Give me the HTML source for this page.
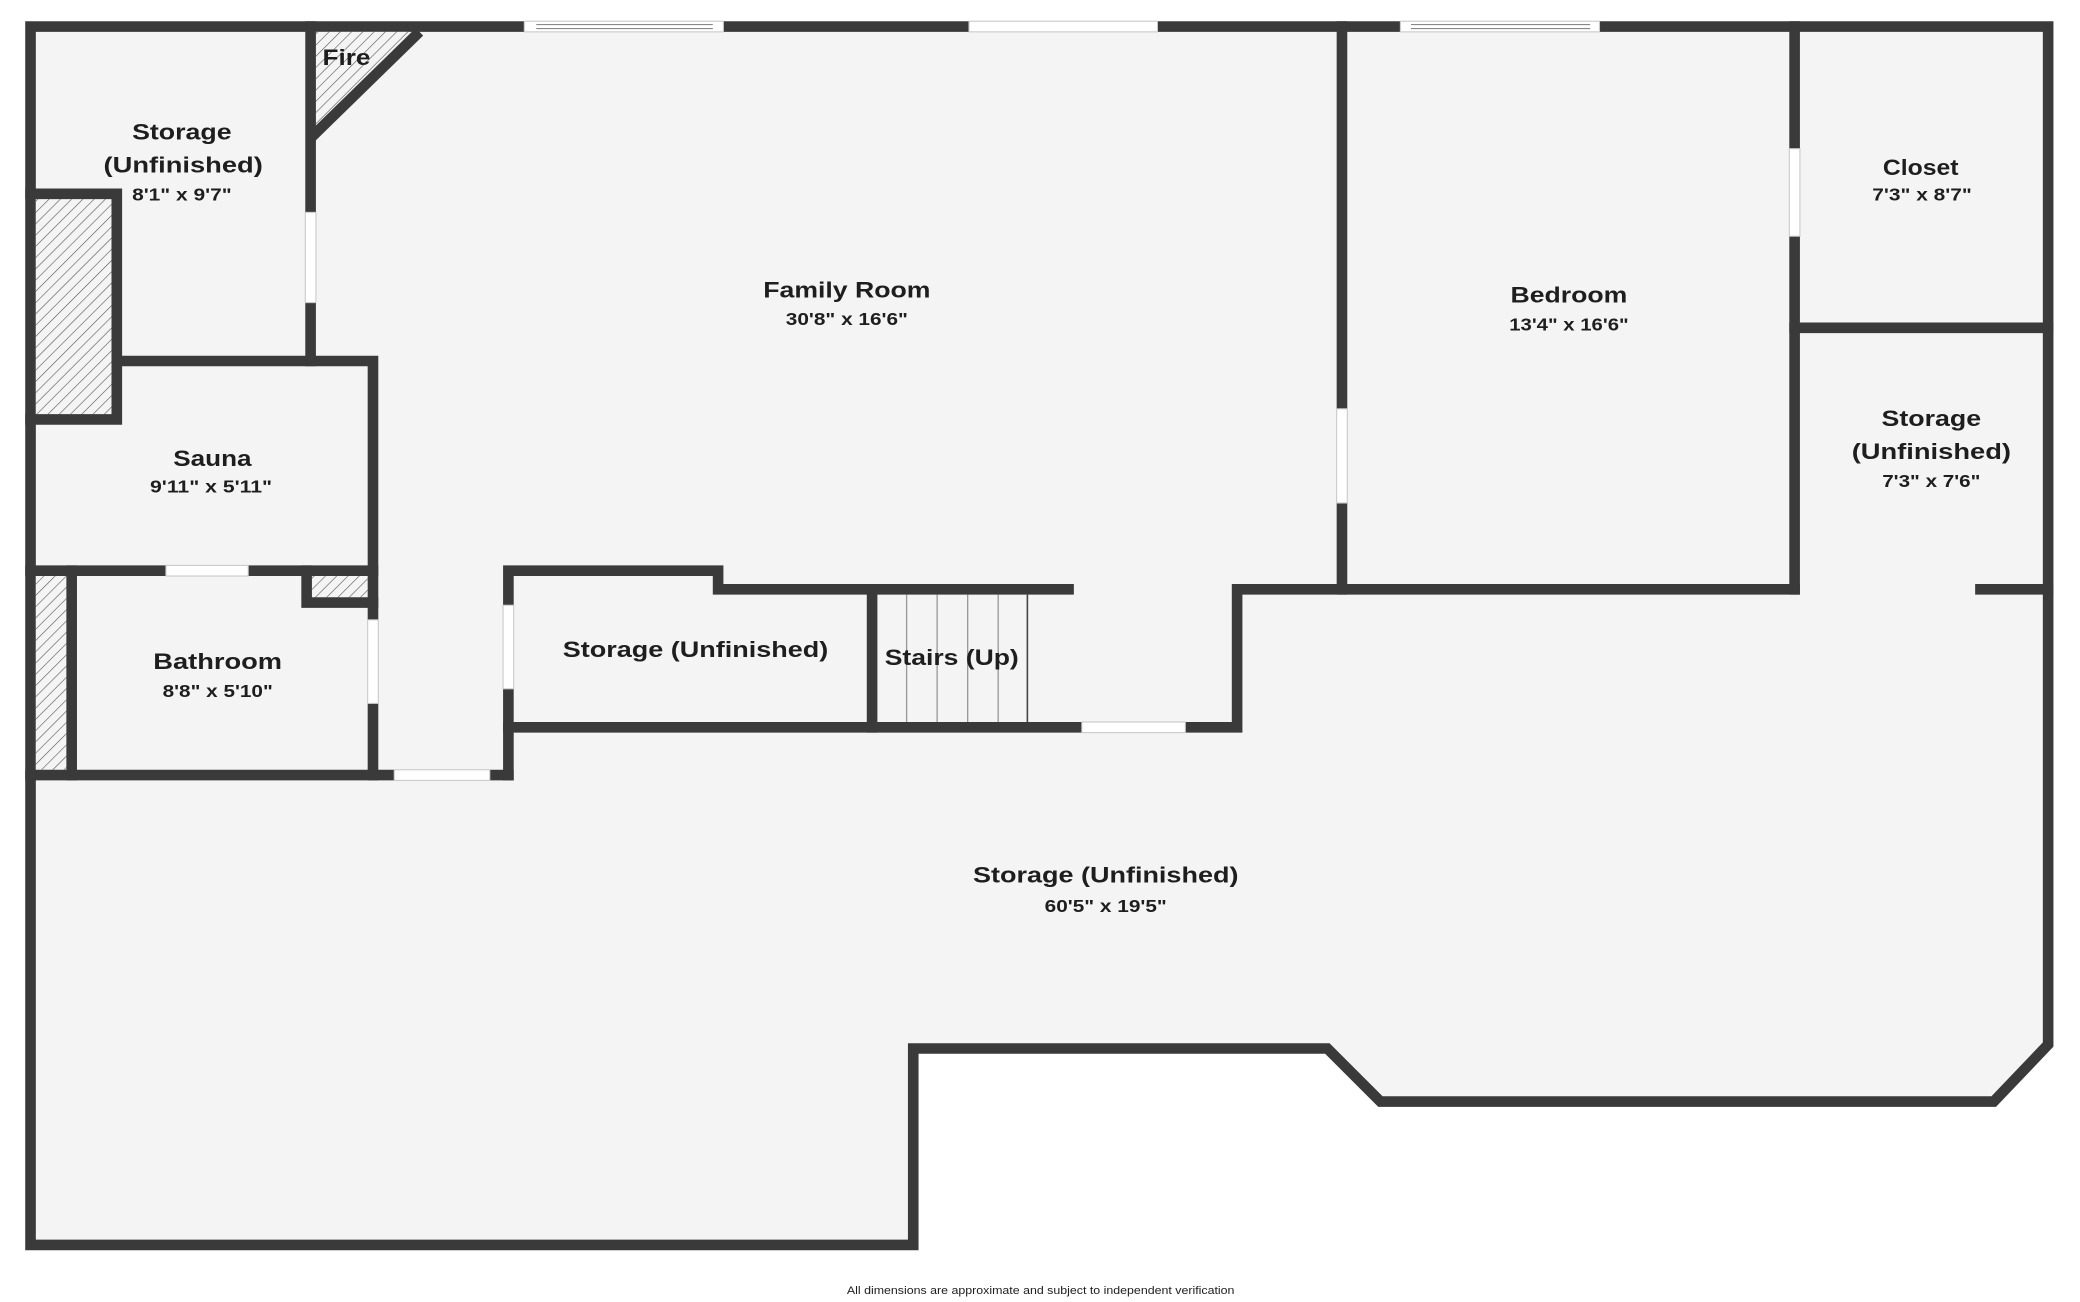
<!DOCTYPE html>
<html><head><meta charset="utf-8"><style>html,body{margin:0;padding:0;background:#fff;width:2080px;height:1302px;overflow:hidden}svg{display:block}text{font-family:"Liberation Sans",sans-serif;font-weight:bold;fill:#1e1e1e}</style></head><body>
<svg width="2080" height="1302" viewBox="0 0 1567 981" preserveAspectRatio="none" xmlns="http://www.w3.org/2000/svg">
<defs><pattern id="h" width="6" height="6" patternUnits="userSpaceOnUse" patternTransform="rotate(45)"><rect width="6" height="6" fill="#f4f4f4"/><line x1="0" y1="0" x2="0" y2="6" stroke="#555" stroke-width="0.9"/></pattern></defs>
<polygon points="23,20 1543,20 1543,787 1502,830 1040,830 1000,790 688,790 688,938 23,938" fill="#f4f4f4" stroke="#3a3a3a" stroke-width="8" stroke-linejoin="miter"/>
<polygon points="238,24 308,24 238,94" fill="url(#h)"/>
<rect x="27" y="150" width="57" height="162" fill="url(#h)"/>
<rect x="27" y="434" width="23" height="146" fill="url(#h)"/>
<rect x="235" y="434" width="42" height="16" fill="url(#h)"/>
<g stroke="#999" stroke-width="1"><line x1="683" y1="448" x2="683" y2="544"/><line x1="706" y1="448" x2="706" y2="544"/><line x1="729" y1="448" x2="729" y2="544"/><line x1="752" y1="448" x2="752" y2="544"/></g>
<line x1="774" y1="448" x2="774" y2="544" stroke="#444" stroke-width="1.2"/>
<g fill="none" stroke="#3a3a3a" stroke-width="8" stroke-linecap="square" stroke-linejoin="miter">
<path d="M234 20 V272"/><path d="M316 24 L234 104" stroke-linecap="butt"/>
<path d="M23 146 H88 V316 H23"/><path d="M88 272 H281 V584"/><path d="M23 430 H281"/>
<path d="M231 430 V454 H281"/><path d="M54 430 V584"/><path d="M23 584 H383"/>
<path d="M383 584 V430 H541 V444 H805"/><path d="M383 548 H932 V444 H1352"/>
<path d="M1011 20 V444"/><path d="M1352 20 V444"/><path d="M1352 247 H1543"/><path d="M1492 444 H1543"/>
<path d="M657 444 V548"/>
</g>
<g fill="#fff" stroke="#c8c8c8" stroke-width="0.8">
<rect x="395" y="16" width="150" height="8"/><rect x="730" y="16" width="142" height="8"/><rect x="1055" y="16" width="150" height="8"/>
<rect x="230" y="160" width="8" height="68"/><rect x="1007" y="308" width="8" height="71"/><rect x="1348" y="112" width="8" height="66"/>
<rect x="277" y="467" width="8" height="63"/><rect x="379" y="456" width="8" height="63"/>
<rect x="125" y="426" width="62" height="8"/><rect x="297" y="580" width="72" height="8"/><rect x="815" y="544" width="78" height="8"/>
</g>
<g stroke="#888" stroke-width="0.8"><line x1="404" y1="18.5" x2="537" y2="18.5"/><line x1="404" y1="21.5" x2="537" y2="21.5"/><line x1="1063" y1="18.5" x2="1198" y2="18.5"/><line x1="1063" y1="21.5" x2="1198" y2="21.5"/></g>
<g font-size="16.5" text-anchor="middle">
<text x="137" y="105" textLength="75" lengthAdjust="spacingAndGlyphs">Storage</text>
<text x="138" y="130" textLength="120" lengthAdjust="spacingAndGlyphs">(Unfinished)</text>
<text x="638" y="224" textLength="126" lengthAdjust="spacingAndGlyphs">Family Room</text>
<text x="1182" y="228" textLength="88" lengthAdjust="spacingAndGlyphs">Bedroom</text>
<text x="1447" y="132" textLength="57" lengthAdjust="spacingAndGlyphs">Closet</text>
<text x="1455" y="321" textLength="75" lengthAdjust="spacingAndGlyphs">Storage</text>
<text x="1455" y="346" textLength="120" lengthAdjust="spacingAndGlyphs">(Unfinished)</text>
<text x="160" y="351" textLength="59" lengthAdjust="spacingAndGlyphs">Sauna</text>
<text x="164" y="504" textLength="97" lengthAdjust="spacingAndGlyphs">Bathroom</text>
<text x="524" y="495" textLength="200" lengthAdjust="spacingAndGlyphs">Storage (Unfinished)</text>
<text x="717" y="501" textLength="101" lengthAdjust="spacingAndGlyphs">Stairs (Up)</text>
<text x="833" y="665" textLength="200" lengthAdjust="spacingAndGlyphs">Storage (Unfinished)</text>
</g>
<text x="243" y="49" font-size="16.5" textLength="36" lengthAdjust="spacingAndGlyphs">Fire</text>
<g font-size="13" text-anchor="middle">
<text x="137" y="151" textLength="75" lengthAdjust="spacingAndGlyphs">8'1" x 9'7"</text>
<text x="638" y="245" textLength="92" lengthAdjust="spacingAndGlyphs">30'8" x 16'6"</text>
<text x="1182" y="249" textLength="90" lengthAdjust="spacingAndGlyphs">13'4" x 16'6"</text>
<text x="1448" y="151" textLength="75" lengthAdjust="spacingAndGlyphs">7'3" x 8'7"</text>
<text x="1455" y="367" textLength="74" lengthAdjust="spacingAndGlyphs">7'3" x 7'6"</text>
<text x="159" y="371" textLength="92" lengthAdjust="spacingAndGlyphs">9'11" x 5'11"</text>
<text x="164" y="525" textLength="83" lengthAdjust="spacingAndGlyphs">8'8" x 5'10"</text>
<text x="833" y="687" textLength="92" lengthAdjust="spacingAndGlyphs">60'5" x 19'5"</text>
</g>
<text x="784" y="975" font-size="8" font-weight="normal" text-anchor="middle" textLength="292" lengthAdjust="spacingAndGlyphs" style="font-weight:normal">All dimensions are approximate and subject to independent verification</text>
</svg>
</body></html>
